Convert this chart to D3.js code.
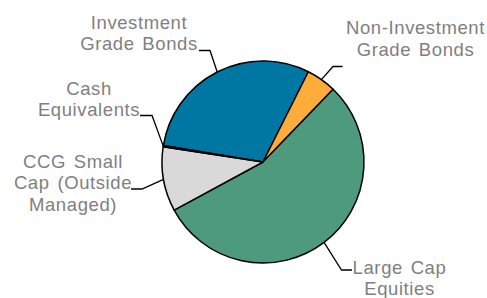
<!DOCTYPE html>
<html>
<head>
<meta charset="utf-8">
<script src="https://cdn.jsdelivr.net/npm/d3@7"></script>
<style>
  body { margin: 0; background: #fff; }
  text { font-family: "Liberation Sans", Arial, sans-serif; font-size: 18.5px; fill: #7f7f7f; letter-spacing: 0.6px; word-spacing: 2px; }
</style>
</head>
<body>
<svg id="svg1"></svg>
<script>
// data
var categories = ['Investment Grade Bonds', 'Non-Investment Grade Bonds', 'Large Cap Equities', 'CCG Small Cap (Outside Managed)', 'Cash Equivalents'];
var values = [29.8, 4.8, 54.9, 10.3, 0.2];
var colors = ['#0076a3', '#ffad3a', '#4e9a7c', '#d9d9d9', '#ffffff'];

// label layout: text lines, text anchor point, elbow of leader line
var labels = [
  {lines: ['Investment', 'Grade Bonds'], x: 139, y: 28.5, elbow: [210, 50.5], end: 199, ly: 50.5},
  {lines: ['Non-Investment', 'Grade Bonds'], x: 415.5, y: 34, elbow: [333, 66.5], end: 342.5, ly: 66.5},
  {lines: ['Large Cap', 'Equities'], x: 399.5, y: 273.5, elbow: [341.5, 270], end: 352, ly: 270},
  {lines: ['CCG Small', 'Cap (Outside', 'Managed)'], x: 73, y: 167.5, elbow: [142, 189], end: 131, ly: 189},
  {lines: ['Cash', 'Equivalents'], x: 89, y: 94.5, elbow: [152, 115.5], end: 140, ly: 115.5}
];

var width = 487;
var height = 298;
var cx = 263, cy = 162, radius = 101;
var lineHeight = 21.5;

var svg = d3.select('#svg1')
  .attr('width', width)
  .attr('height', height)
  .append('g')
    .attr('transform', 'translate(' + cx + ',' + cy + ')');

var pie = d3.pie()
  .sort(null)
  .value(function(d) { return d; })
  .startAngle(-80.6 * Math.PI / 180)
  .endAngle((360 - 80.6) * Math.PI / 180);

var arcs = pie(values);

var arc = d3.arc().innerRadius(0).outerRadius(radius);
var edge = d3.arc().innerRadius(radius).outerRadius(radius);

// slices
svg.selectAll('path.slice')
  .data(arcs)
  .enter()
  .append('path')
    .attr('class', 'slice')
    .attr('d', arc)
    .style('fill', function(d, i) { return colors[i]; })
    .style('stroke', '#000')
    .style('stroke-width', 1.5)
    .style('stroke-linejoin', 'round');

// leader lines
svg.selectAll('path.leader')
  .data(arcs)
  .enter()
  .append('path')
    .attr('class', 'leader')
    .attr('d', function(d, i) {
      var p = edge.centroid(d);
      var l = labels[i];
      return 'M' + p[0] + ',' + p[1] +
        'L' + (l.elbow[0] - cx) + ',' + (l.elbow[1] - cy) +
        'L' + (l.end - cx) + ',' + (l.ly - cy);
    })
    .style('fill', 'none')
    .style('stroke', '#000')
    .style('stroke-width', 1.3);

// labels
labels.forEach(function(l) {
  var t = svg.append('text')
    .attr('text-anchor', 'middle');
  l.lines.forEach(function(s, j) {
    t.append('tspan')
      .attr('x', l.x - cx)
      .attr('y', l.y - cy + j * lineHeight)
      .text(s);
  });
});
</script>
</body>
</html>
